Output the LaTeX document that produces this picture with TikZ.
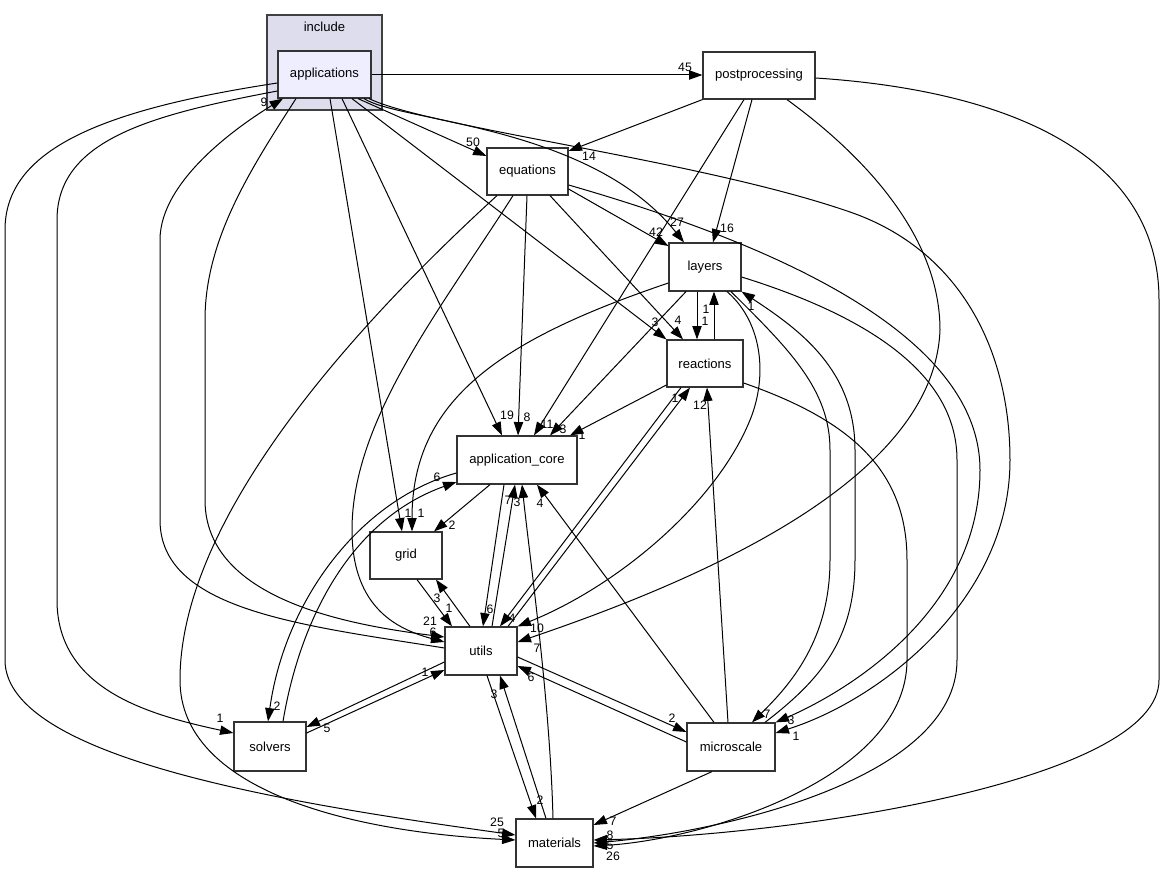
\documentclass[tikz,border=0pt]{standalone}
\usepackage{fontspec}
\setmainfont{Liberation Sans}
\usetikzlibrary{arrows.meta}
\definecolor{clusterfill}{RGB}{221,221,238}
\definecolor{appfill}{RGB}{238,238,255}
\newcommand\nodefs{\fontsize{9.8pt}{11pt}\selectfont}
\newcommand\lblfs{\fontsize{9.2pt}{10pt}\selectfont}
\begin{document}
\begin{tikzpicture}[x=0.75pt,y=-0.75pt,
  dnode/.style={draw=black!80, line width=0.9pt, fill=white, font=\nodefs, minimum height=35.25pt, inner sep=0pt},
  edge/.style={draw=black, line width=0.75pt, -{Triangle[length=10pt,width=7pt]}},
  lbl/.style={font=\lblfs, inner sep=0pt}]
\fill[white] (0,0) rectangle (1165,873);
\useasboundingbox (0,0) rectangle (1165,873);
% cluster
\node[draw=black!75, line width=1pt, fill=clusterfill, minimum width=86.25pt, minimum height=71.25pt, inner sep=0pt] (include) at (324.5,62.5) {};
\node[font=\nodefs, inner sep=0pt] (includelbl) at (324.5,27) {include};
% nodes
\node[dnode, fill=appfill, minimum width=69.75pt] (applications) at (324.5,74.5) {applications};
\node[dnode, minimum width=84pt] (postprocessing) at (759,75.5) {postprocessing};
\node[dnode, minimum width=60.75pt] (equations) at (527.5,171.5) {equations};
\node[dnode, minimum width=54pt, minimum height=36pt] (layers) at (705,267) {layers};
\node[dnode, minimum width=57pt] (reactions) at (705,363.5) {reactions};
\node[dnode, minimum width=90pt, minimum height=36pt] (appcore) at (517,460) {application\_core};
\node[dnode, minimum width=54pt] (grid) at (406,555.5) {grid};
\node[dnode, minimum width=54pt, minimum height=36pt] (utils) at (481,651) {utils};
\node[dnode, minimum width=54pt, minimum height=36.75pt] (solvers) at (270,746.5) {solvers};
\node[dnode, minimum width=66pt, minimum height=36pt] (microscale) at (731,747) {microscale};
\node[dnode, minimum width=57.75pt, minimum height=36pt] (materials) at (554.5,843) {materials};
% edges from applications
\draw[edge] (applications.east |- 0,75) -- (postprocessing.west |- 0,75);
\node[lbl] (l45) at (685,67) {45};
\draw[edge] (applications.south -| 358,0) -- (equations.west |- 0,156);
\node[lbl] (l50) at (473,142) {50};
\draw[edge] (applications.south -| 364,0) .. controls (400,122) and (590,125) .. (layers.north -| 684,0);
\node[lbl] (l27) at (677,222) {27};
\draw[edge] (applications.south -| 369,0) .. controls (430,128) and (700,160) .. (850,212) .. controls (960,250) and (1010,350) .. (1010,460) .. controls (1010,600) and (880,700) .. (microscale.east |- 0,733);
\node[lbl] (l1m) at (796,736) {1};
\draw[edge] (applications.south -| 352,0) -- (reactions.north west);
\node[lbl] (l3r) at (655,322) {3};
\draw[edge] (applications.south -| 342,0) -- (appcore.north -| 502,0);
\node[lbl] (l19) at (507,415) {19};
\draw[edge] (applications.south -| 330,0) -- (grid.north -| 402,0);
\node[lbl] (l1g) at (408,513) {1};
\draw[edge] (applications.south -| 296,0) .. controls (250,170) and (205,240) .. (205,320) -- (205,500) .. controls (205,600) and (350,625) .. (utils.west |- 0,637);
\node[lbl] (l21) at (430,621) {21};
\draw[edge] (utils.west |- 0,648) .. controls (300,625) and (160,610) .. (160,520) -- (160,240) .. controls (160,180) and (240,125) .. (applications.south -| 283,0);
\node[lbl] (l9) at (264,102) {9};
\draw[edge] (applications.west |- 0,91) .. controls (150,115) and (57,140) .. (57,220) -- (57,600) .. controls (57,690) and (150,715) .. (solvers.west |- 0,733);
\node[lbl] (l1s) at (220,718) {1};
\draw[edge] (applications.west |- 0,83) .. controls (100,110) and (5,150) .. (5,230) -- (5,660) .. controls (5,760) and (300,805) .. (materials.west |- 0,835);
\node[lbl] (l25) at (497,822) {25};
% edges from postprocessing
\draw[edge] (postprocessing.south west) -- (equations.east |- 0,151);
\node[lbl] (l14) at (589,156) {14};
\draw[edge] (postprocessing.south -| 752,0) -- (layers.north -| 713,0);
\node[lbl] (l16) at (727,228) {16};
\draw[edge] (postprocessing.south -| 744,0) -- (appcore.north -| 534,0);
\node[lbl] (l11) at (547,424) {11};
\draw[edge] (postprocessing.south -| 787,0) .. controls (870,160) and (940,240) .. (940,330) .. controls (935,460) and (760,560) .. (utils.east |- 0,642);
\node[lbl] (l7u) at (537,648) {7};
\draw[edge] (postprocessing.east |- 0,78) .. controls (1000,90) and (1159,150) .. (1159,300) -- (1159,680) .. controls (1159,780) and (800,835) .. (materials.east |- 0,840);
\node[lbl] (l5m) at (610,845) {5};
% edges from equations
\draw[edge] (equations.east |- 0,189) -- (layers.west |- 0,246);
\node[lbl] (l42) at (656,232) {42};
\draw[edge] (equations.south -| 550,0) -- (reactions.north -| 683,0);
\node[lbl] (l4r) at (678,320) {4};
\draw[edge] (equations.south -| 527,0) -- (appcore.north -| 518,0);
\node[lbl] (l8) at (527,417) {8};
\draw[edge] (equations.south -| 513,0) .. controls (440,310) and (352,420) .. (352,530) .. controls (352,610) and (400,630) .. (utils.west |- 0,642);
\node[lbl] (l6u) at (433,632) {6};
\draw[edge] (equations.south -| 497,0) .. controls (350,330) and (180,520) .. (180,680) .. controls (180,790) and (350,832) .. (materials.west |- 0,840);
\node[lbl] (l5ml) at (501,833) {5};
\draw[edge] (equations.east |- 0,185) .. controls (760,240) and (980,330) .. (980,470) .. controls (980,610) and (850,690) .. (microscale.north east);
\node[lbl] (l3mi) at (791,720) {3};
% edges from layers
\draw[edge] (layers.south -| 697,0) -- (reactions.north -| 697,0);
\node[lbl] (l1lr) at (705,321) {1};
\draw[edge] (reactions.north -| 714,0) -- (layers.south -| 714,0);
\node[lbl] (l1rl) at (706,309) {1};
\draw[edge] (layers.south -| 686,0) -- (appcore.north -| 550,0);
\node[lbl] (l3a) at (563,429) {3};
\draw[edge] (layers.west |- 0,283) .. controls (500,340) and (412,400) .. (grid.north -| 412,0);
\node[lbl] (l1lg) at (421,513) {1};
\draw[edge] (layers.south -| 727,0) .. controls (760,320) and (768,370) .. (752,415) .. controls (720,500) and (620,585) .. (utils.north east);
\node[lbl] (l10) at (537,628) {10};
\draw[edge] (layers.south -| 731,0) .. controls (790,350) and (830,390) .. (830,450) -- (830,560) .. controls (830,640) and (790,685) .. (microscale.north -| 752,0);
\node[lbl] (l7mi) at (767,714) {7};
\draw[edge] (microscale.north -| 765,0) .. controls (820,680) and (855,640) .. (855,560) -- (855,450) .. controls (855,370) and (800,330) .. (layers.south east);
\node[lbl] (l1ml) at (751,306) {1};
\draw[edge] (layers.east |- 0,277) .. controls (880,320) and (957,380) .. (957,460) -- (957,660) .. controls (957,780) and (720,832) .. (materials.east |- 0,843);
\node[lbl] (l8m) at (610,835) {8};
% edges from reactions
\draw[edge] (reactions.east |- 0,383) .. controls (850,420) and (907,470) .. (907,560) -- (907,660) .. controls (907,780) and (700,840) .. (materials.east |- 0,846);
\node[lbl] (l26) at (613,856) {26};
\draw[edge] (reactions.west |- 0,385) -- (appcore.north -| 570,0);
\node[lbl] (l1a) at (582,435) {1};
\draw[edge] (reactions.south -| 681,0) -- (utils.north -| 500,0);
\node[lbl] (l4u) at (512,618) {4};
\draw[edge] (utils.north -| 508,0) -- (reactions.south -| 690,0);
\node[lbl] (l1ur) at (675,398) {1};
% edges from microscale
\draw[edge] (microscale.north -| 728,0) -- (reactions.south -| 707,0);
\node[lbl] (l12) at (700,405) {12};
\draw[edge] (microscale.north -| 714,0) -- (appcore.south -| 537,0);
\node[lbl] (l4a) at (540,503) {4};
\draw[edge] (microscale.south -| 712,0) -- (materials.east |- 0,825);
\node[lbl] (l7ma) at (613,821) {7};
\draw[edge] (utils.east |- 0,657) -- (microscale.west |- 0,732);
\node[lbl] (l2mi) at (672,718) {2};
\draw[edge] (microscale.west |- 0,742) -- (utils.east |- 0,666);
\node[lbl] (l6um) at (531,677) {6};
% edges around application_core, grid, utils, solvers, materials
\draw[edge] (appcore.south -| 490,0) -- (grid.north -| 434,0);
\node[lbl] (l2g) at (452,525) {2};
\draw[edge] (appcore.south -| 504,0) -- (utils.north -| 483,0);
\node[lbl] (l6au) at (490,609) {6};
\draw[edge] (utils.north -| 492,0) -- (appcore.south -| 515,0);
\node[lbl] (l7a) at (508,500) {7};
\draw[edge] (materials.north -| 553,0) .. controls (550,700) and (530,560) .. (appcore.south -| 522,0);
\node[lbl] (l3ma) at (517,502) {3};
\draw[edge] (materials.north -| 546,0) -- (utils.south -| 500,0);
\node[lbl] (l3mu) at (494,694) {3};
\draw[edge] (utils.south -| 487,0) -- (materials.north -| 536,0);
\node[lbl] (l2um) at (540,800) {2};
\draw[edge] (grid.south -| 417,0) -- (utils.north -| 452,0);
\node[lbl] (l1gu) at (449,608) {1};
\draw[edge] (utils.north -| 470,0) -- (grid.south -| 436,0);
\node[lbl] (l3ug) at (437,598) {3};
\draw[edge] (utils.west |- 0,662) -- (solvers.east |- 0,727);
\node[lbl] (l5s) at (327,728) {5};
\draw[edge] (solvers.east |- 0,733) -- (utils.west |- 0,670);
\node[lbl] (l1su) at (425,672) {1};
\draw[edge] (appcore.west |- 0,473) .. controls (360,500) and (285,600) .. (solvers.north -| 268,0);
\node[lbl] (l2s) at (277,706) {2};
\draw[edge] (solvers.north -| 283,0) .. controls (300,620) and (350,520) .. (appcore.west |- 0,482);
\node[lbl] (l6a) at (437,477) {6};
\end{tikzpicture}
\end{document}
